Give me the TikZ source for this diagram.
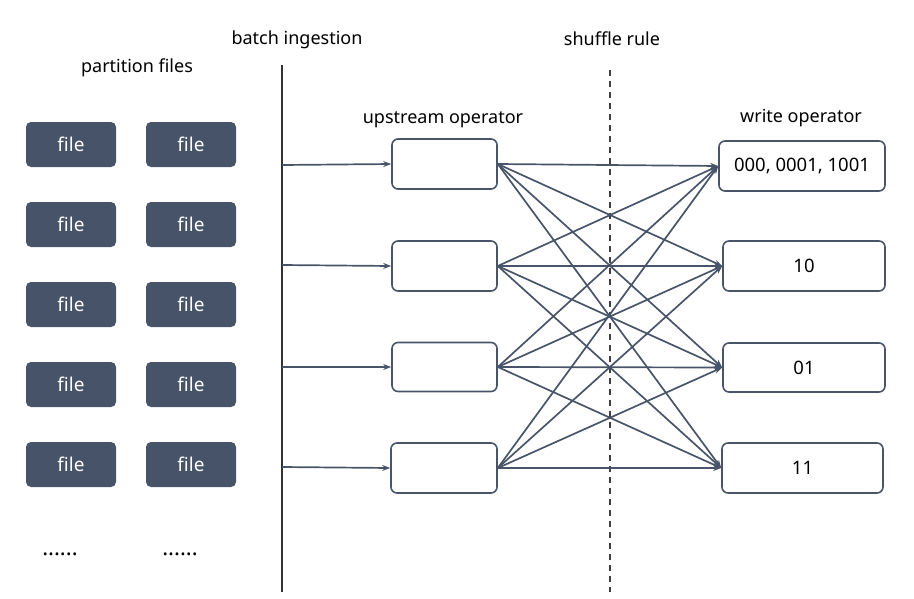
\documentclass[tikz,border=0pt]{standalone}
\usepackage{fontspec}
\setmainfont{Noto Sans}
\usetikzlibrary{arrows.meta}
\definecolor{slate}{RGB}{71,83,104}
\definecolor{linec}{RGB}{72,84,105}
\begin{document}
\begin{tikzpicture}[x=1pt,y=-1pt,
  filebox/.style={fill=slate,rounded corners=5pt,minimum width=90pt,minimum height=45pt,inner sep=0pt,text=white,font=\fontsize{19}{22}\bfseries\selectfont},
  opbox/.style={draw=linec,line width=1.6pt,rounded corners=6pt,inner sep=0pt,font=\fontsize{18.5}{21}\selectfont},
  lbl/.style={font=\fontsize{18}{21}\selectfont,text=black},
  conn/.style={draw=linec,line width=1.7pt,-{Stealth[length=8pt,width=6pt]}},
  dots/.style={font=\fontsize{22}{24}\bfseries\selectfont}]
\useasboundingbox (0,0) rectangle (914,598);
% partition files
\node[lbl] (pf) at (137,68) {partition files};
\foreach \r/\y in {1/144.5,2/224.5,3/304.5,4/384.5,5/464.5}{
  \node[filebox] (fa\r) at (71,\y) {file};
  \node[filebox] (fb\r) at (191,\y) {file};
}
\node[dots] (da) at (60,554) {......};
\node[dots] (db) at (180,554) {......};
% batch ingestion line
\node[lbl] (bi) at (297,40) {batch ingestion};
\coordinate (vt) at (282,65);
\coordinate (vb) at (282,592);
\draw[line width=1.8pt,draw=black!80] (vt) -- (vb);
% shuffle rule
\node[lbl] (sr) at (612,39) {shuffle rule};
\coordinate (st) at (610,70);
\coordinate (sb) at (610,592);
\draw[line width=1.6pt,draw=black!75,dash pattern=on 6pt off 5pt] (st) -- (sb);
% upstream
\node[lbl] (uo) at (443,120) {upstream operator};
\node[opbox,minimum width=105pt,minimum height=50pt] (u1) at (444.5,164) {};
\node[opbox,minimum width=105pt,minimum height=50pt] (u2) at (444.5,266) {};
\node[opbox,minimum width=105pt,minimum height=49pt] (u3) at (444.5,367) {};
\node[opbox,minimum width=106pt,minimum height=50pt] (u4) at (444,468) {};
% input arrows
\foreach \i/\y in {1/165,2/265,3/367,4/467}{
  \coordinate (in\i) at (282,\y);
  \draw[conn] (in\i) -- (u\i.west);
}
% write
\node[lbl] (wo) at (801,118) {write operator};
\node[opbox,minimum width=166pt,minimum height=50pt] (w1) at (802,166) {000, 0001, 1001};
\node[opbox,minimum width=162pt,minimum height=50pt] (w2) at (804,266) {10};
\node[opbox,minimum width=162pt,minimum height=49pt] (w3) at (804,367.5) {01};
\node[opbox,minimum width=161pt,minimum height=50pt] (w4) at (802.5,468) {11};
% shuffle connections
\foreach \i in {1,2,3,4}{
  \foreach \j in {1,2,3,4}{
    \draw[conn] (u\i.east) -- (w\j.west);
  }
}
\end{tikzpicture}
\end{document}
